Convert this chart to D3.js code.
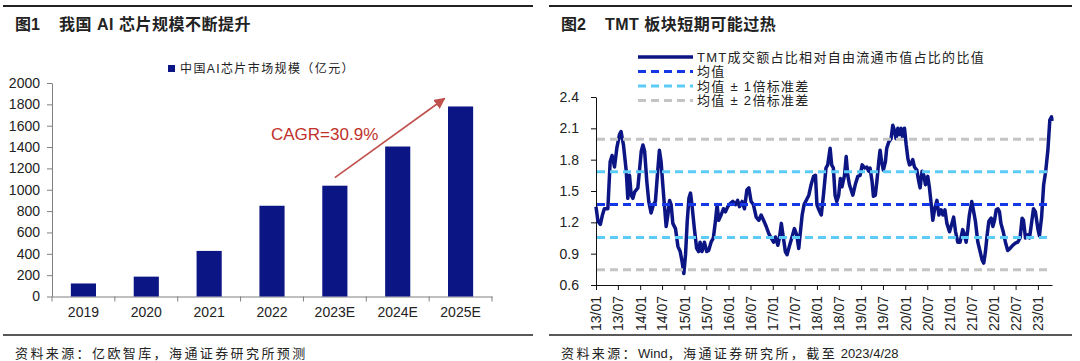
<!DOCTYPE html>
<html>
<head>
<meta charset="utf-8">
<script src="https://cdn.jsdelivr.net/npm/d3@7"></script>
<style>
  body { margin: 0; background: #fff; }
  svg { display: block; }
  text { font-family: "Liberation Sans", "Noto Sans CJK SC", sans-serif; fill: #222; }
</style>
</head>
<body>
<script>
// left chart: China AI chip market size (100m yuan)
var years = ["2019", "2020", "2021", "2022", "2023E", "2024E", "2025E"];
var marketSize = [122, 186, 427, 850, 1038, 1405, 1780];
var sizeTicks = [0, 200, 400, 600, 800, 1000, 1200, 1400, 1600, 1800, 2000];

// right chart: TMT turnover share / free-float mcap share
var tmtDates = [
  "2013-01-01","2013-01-17","2013-02-06","2013-02-23","2013-03-11","2013-04-09","2013-04-28","2013-05-14","2013-06-03","2013-06-22",
  "2013-07-14","2013-07-27","2013-08-16","2013-09-08","2013-09-21","2013-10-05","2013-10-19","2013-11-02","2013-11-16","2013-12-13",
  "2014-01-10","2014-01-24","2014-02-07","2014-02-25","2014-03-13","2014-04-01","2014-04-21","2014-05-07","2014-05-26","2014-06-09",
  "2014-06-23","2014-07-07","2014-07-20","2014-08-04","2014-08-18","2014-09-01","2014-09-14","2014-09-28","2014-10-20","2014-11-09",
  "2014-11-28","2014-12-14","2014-12-28","2015-01-11","2015-01-25","2015-02-08","2015-02-21","2015-03-05","2015-03-25","2015-04-13",
  "2015-04-29","2015-05-11","2015-05-27","2015-06-16","2015-07-05","2015-07-21","2015-08-10","2015-08-29","2015-09-15","2015-09-29",
  "2015-10-12","2015-11-01","2015-11-20","2015-12-07","2015-12-26","2016-01-15","2016-02-06","2016-02-28","2016-03-17","2016-04-01",
  "2016-04-23","2016-05-12","2016-06-01","2016-06-17","2016-07-06","2016-07-25","2016-08-17","2016-09-08","2016-09-27","2016-10-17",
  "2016-11-08","2016-11-30","2016-12-19","2017-01-08","2017-01-24","2017-02-12","2017-02-25","2017-03-13","2017-03-30","2017-04-15",
  "2017-04-29","2017-05-18","2017-06-07","2017-06-29","2017-07-18","2017-08-04","2017-08-15","2017-09-01","2017-09-17","2017-10-04",
  "2017-10-26","2017-11-14","2017-12-04","2017-12-20","2018-01-01","2018-01-17","2018-02-06","2018-02-24","2018-03-17","2018-03-31",
  "2018-04-20","2018-05-03","2018-05-17","2018-05-31","2018-06-14","2018-06-30","2018-07-14","2018-07-27","2018-08-17","2018-08-31",
  "2018-09-13","2018-09-27","2018-10-11","2018-10-25","2018-11-16","2018-12-05","2018-12-24","2019-01-10","2019-01-30","2019-02-17",
  "2019-03-04","2019-03-16","2019-04-02","2019-04-13","2019-04-29","2019-05-13","2019-05-27","2019-06-07","2019-06-20","2019-07-04",
  "2019-07-21","2019-08-01","2019-08-18","2019-09-06","2019-09-20","2019-10-04","2019-10-17","2019-11-01","2019-11-14","2019-11-28",
  "2019-12-12","2019-12-26","2020-01-09","2020-01-23","2020-02-05","2020-02-19","2020-03-03","2020-03-17","2020-04-06","2020-04-22",
  "2020-05-03","2020-05-19","2020-06-03","2020-06-16","2020-07-05","2020-07-19","2020-08-03","2020-08-16","2020-08-30","2020-09-19",
  "2020-10-05","2020-10-24","2020-11-07","2020-11-24","2020-12-10","2021-01-01","2021-01-21","2021-02-04","2021-02-20","2021-03-10",
  "2021-03-29","2021-04-20","2021-05-04","2021-05-18","2021-06-01","2021-06-14","2021-07-04","2021-07-20","2021-08-03","2021-08-23",
  "2021-09-11","2021-09-27","2021-10-11","2021-10-25","2021-11-08","2021-11-22","2021-12-11","2021-12-25","2022-01-08","2022-01-22",
  "2022-02-05","2022-02-18","2022-03-02","2022-03-21","2022-04-08","2022-04-27","2022-05-16","2022-06-07","2022-06-29","2022-07-19",
  "2022-08-07","2022-08-24","2022-09-04","2022-09-21","2022-10-10","2022-10-24","2022-11-12","2022-11-26","2022-12-12","2023-01-01",
  "2023-01-14","2023-02-01","2023-02-18","2023-03-07","2023-03-25","2023-04-10","2023-04-24","2023-04-28"
];
var tmtRatio = [
  1.35,1.21,1.18,1.27,1.33,1.33,1.78,1.84,1.73,1.91,
  2.04,2.07,1.94,1.69,1.43,1.65,1.46,1.43,1.49,1.53,
  1.88,1.94,1.88,1.59,1.40,1.29,1.37,1.40,1.69,1.89,
  1.78,1.56,1.37,1.16,1.27,1.41,1.37,1.19,1.14,0.97,
  0.92,0.82,0.71,0.89,1.21,1.43,1.48,1.37,1.14,0.95,
  0.92,1.01,0.92,1.01,0.92,0.93,1.01,1.05,1.21,1.37,
  1.22,1.27,1.33,1.30,1.35,1.38,1.40,1.37,1.41,1.35,
  1.40,1.33,1.51,1.53,1.40,1.37,1.25,1.22,1.27,1.22,
  1.16,1.09,1.05,1.01,1.06,0.98,1.05,1.19,1.05,0.92,
  0.89,0.97,1.05,1.14,1.08,0.95,1.08,1.27,1.37,1.41,
  1.46,1.56,1.64,1.65,1.37,1.32,1.27,1.46,1.72,1.75,
  1.91,1.75,1.72,1.46,1.40,1.46,1.62,1.54,1.65,1.83,
  1.65,1.56,1.51,1.46,1.57,1.64,1.65,1.75,1.72,1.73,
  1.69,1.72,1.59,1.45,1.46,1.61,1.78,1.89,1.78,1.70,
  1.78,1.91,1.97,2.00,2.13,2.08,2.00,2.10,2.04,2.10,
  2.00,2.10,1.94,1.81,1.75,1.76,1.80,1.73,1.70,1.59,
  1.53,1.69,1.65,1.56,1.64,1.53,1.37,1.22,1.32,1.41,
  1.27,1.32,1.27,1.32,1.19,1.11,1.19,1.25,1.11,1.01,
  1.01,1.13,1.08,1.01,1.13,1.27,1.40,1.30,1.21,1.01,
  0.92,0.84,0.81,0.92,1.08,1.21,1.24,1.16,1.22,1.32,
  1.33,1.30,1.19,1.11,1.01,0.93,0.95,0.98,1.00,1.01,
  1.05,1.24,1.22,1.05,1.08,1.05,1.21,1.33,1.30,1.14,
  1.07,1.25,1.56,1.69,1.89,2.18,2.21,2.17
];
var refNames = ["均值", "均值 ± 1倍标准差", "均值 ± 2倍标准差"];
var meanValue = [1.37];
var sd1Values = [1.685, 1.055];
var sd2Values = [1.995, 0.745];
var ratioTicks = [0.6, 0.9, 1.2, 1.5, 1.8, 2.1, 2.4];
var dateTicks = ["13/01","13/07","14/01","14/07","15/01","15/07","16/01","16/07","17/01","17/07",
  "18/01","18/07","19/01","19/07","20/01","20/07","21/01","21/07","22/01","22/07","23/01"];

var navy = "#0b1583";
var svg = d3.select("body").append("svg").attr("width", 1080).attr("height", 361);

// CJK runs get extra spacing, latin runs don't
function spacedText(sel, str, spacing) {
    var parts = str.match(/[A-Za-z0-9\/\.\s]+|[^A-Za-z0-9\/\.\s]+/g);
    parts.forEach(function(p) {
        var latin = /^[A-Za-z0-9\/\.\s]+$/.test(p);
        sel.append("tspan").style("letter-spacing", latin ? "0px" : spacing + "px").text(p);
    });
}

// ---------- frames, titles, sources ----------
function frame(x0, x1, num, title, source) {
    svg.append("line").attr("x1", x0).attr("x2", x1).attr("y1", 6).attr("y2", 6)
        .attr("stroke", "#222").attr("stroke-width", 2);
    svg.append("line").attr("x1", x0).attr("x2", x1).attr("y1", 335).attr("y2", 335)
        .attr("stroke", "#222").attr("stroke-width", 1.5);
    svg.append("text").attr("x", x0 + 12).attr("y", 30)
        .style("font-size", "16px").style("font-weight", "bold").text(num);
    svg.append("text").attr("x", x0 + 56).attr("y", 30)
        .style("font-size", "16px").style("font-weight", "bold").style("letter-spacing", "0.5px").text(title);
    var src = svg.append("text").attr("x", x0 + 12).attr("y", 358).style("font-size", "13px");
    spacedText(src, source, 2.4);
}
frame(3, 533, "图1", "我国 AI 芯片规模不断提升", "资料来源：亿欧智库，海通证券研究所预测");
frame(549, 1072, "图2", "TMT 板块短期可能过热", "资料来源：Wind，海通证券研究所，截至 2023/4/28");

// ---------- left: bar chart ----------
var x1 = d3.scaleBand().domain(years).range([52, 492]).paddingInner(0.6).paddingOuter(0.3);
var y1 = d3.scaleLinear().domain([0, 2000]).range([296.5, 83]);

var yAx1 = svg.append("g").attr("transform", "translate(52,0)")
    .call(d3.axisLeft(y1).tickValues(sizeTicks).tickFormat(d3.format("d"))
        .tickSize(5).tickSizeOuter(0).tickPadding(7));
var xAx1 = svg.append("g").attr("transform", "translate(0,296.5)")
    .call(d3.axisBottom(x1).tickSize(0).tickPadding(11));
// tick marks between categories
xAx1.selectAll(".sep")
    .data(d3.range(years.length + 1))
    .enter().append("line")
    .attr("class", "sep")
    .attr("x1", function(i) { return 52 + i * x1.step(); })
    .attr("x2", function(i) { return 52 + i * x1.step(); })
    .attr("y1", 0).attr("y2", 5)
    .attr("stroke", "#808080");
[yAx1, xAx1].forEach(function(g) {
    g.selectAll("path, line").attr("stroke", "#808080");
    g.selectAll("text").style("font-size", "14px").attr("fill", "#222");
});

svg.selectAll(".bar")
    .data(years)
    .enter().append("rect")
    .attr("class", "bar")
    .attr("x", function(d) { return x1(d); })
    .attr("y", function(d, i) { return y1(marketSize[i]); })
    .attr("width", x1.bandwidth())
    .attr("height", function(d, i) { return y1(0) - y1(marketSize[i]); })
    .attr("fill", navy);

// legend
svg.append("rect").attr("x", 168).attr("y", 65).attr("width", 7).attr("height", 7).attr("fill", navy);
svg.append("text").attr("x", 180).attr("y", 68.5).attr("dy", "0.35em")
    .style("font-size", "12px").style("letter-spacing", "1.4px").text("中国AI芯片市场规模（亿元）");

// CAGR arrow
svg.append("defs").append("marker")
    .attr("id", "arrow").attr("viewBox", "0 0 10 10").attr("refX", 9).attr("refY", 5)
    .attr("markerWidth", 7).attr("markerHeight", 7).attr("orient", "auto")
    .append("path").attr("d", "M0,0 L10,5 L0,10 z").attr("fill", "#c0504d");
var cx = function(d) { return x1(d) + x1.bandwidth() / 2; };
svg.append("line")
    .attr("x1", cx("2023E")).attr("y1", y1(marketSize[4]) - 8)
    .attr("x2", cx("2025E") - 16).attr("y2", y1(marketSize[6]) - 8)
    .attr("stroke", "#c0504d").attr("stroke-width", 1.6)
    .attr("marker-end", "url(#arrow)");
svg.append("text").attr("x", cx("2022") - 1).attr("y", 140)
    .style("font-size", "17px").style("fill", "#c0312b")
    .text("CAGR=30.9%");

// ---------- right: line chart ----------
var parseDate = d3.timeParse("%Y-%m-%d");
var parseTick = d3.timeParse("%y/%m");
var series = tmtDates.map(function(d, i) { return {date: parseDate(d), value: tmtRatio[i]}; });

var x2 = d3.scaleTime().domain([parseDate(tmtDates[0]), parseDate(tmtDates[tmtDates.length - 1])]).range([596, 1052]);
var y2 = d3.scaleLinear().domain([0.6, 2.4]).range([285, 97]);

var yAx2 = svg.append("g").attr("transform", "translate(596,0)")
    .call(d3.axisLeft(y2).tickValues(ratioTicks).tickFormat(d3.format(".1f"))
        .tickSize(5).tickSizeOuter(0).tickPadding(12));
var xAx2 = svg.append("g").attr("transform", "translate(0,285)")
    .call(d3.axisBottom(x2).tickValues(dateTicks.map(parseTick)).tickFormat(d3.timeFormat("%y/%m"))
        .tickSize(5).tickSizeOuter(0));
xAx2.selectAll("text")
    .attr("transform", "rotate(-90)")
    .attr("x", -11).attr("y", 0).attr("dy", "0.35em")
    .style("text-anchor", "end");
[yAx2, xAx2].forEach(function(g) {
    g.selectAll("path, line").attr("stroke", "#111");
    g.selectAll("text").style("font-size", "14px").attr("fill", "#222");
});

var line = d3.line()
    .x(function(d) { return x2(d.date); })
    .y(function(d) { return y2(d.value); });
svg.append("path").datum(series)
    .attr("d", line)
    .attr("fill", "none")
    .attr("stroke", navy)
    .attr("stroke-width", 3.5)
    .attr("stroke-linejoin", "round");

var refColors = ["#1438e6", "#5ccbf7", "#c4c4c4"];
[meanValue, sd1Values, sd2Values].forEach(function(vals, k) {
    svg.selectAll(".ref" + k)
        .data(vals)
        .enter().append("line")
        .attr("class", "ref" + k)
        .attr("x1", x2.range()[0] + 1).attr("x2", x2.range()[1])
        .attr("y1", function(d) { return y2(d); })
        .attr("y2", function(d) { return y2(d); })
        .attr("stroke", refColors[k])
        .attr("stroke-width", 3)
        .attr("stroke-dasharray", "8,5");
});

// legend
var legendRows = ["TMT成交额占比相对自由流通市值占比的比值"].concat(refNames);
var lg = svg.selectAll(".lg")
    .data(legendRows)
    .enter().append("g")
    .attr("class", "lg")
    .attr("transform", function(d, i) { return "translate(0," + (57 + i * 14.5) + ")"; });
lg.append("line")
    .attr("x1", 638).attr("x2", 693).attr("y1", 0).attr("y2", 0)
    .attr("stroke", function(d, i) { return i === 0 ? navy : refColors[i - 1]; })
    .attr("stroke-width", function(d, i) { return i === 0 ? 3.5 : 3; })
    .attr("stroke-dasharray", function(d, i) { return i === 0 ? null : "8,5"; });
lg.append("text")
    .attr("x", 697).attr("dy", "0.35em")
    .style("font-size", "13px").style("letter-spacing", "1.3px")
    .text(function(d) { return d; });
</script>
</body>
</html>
